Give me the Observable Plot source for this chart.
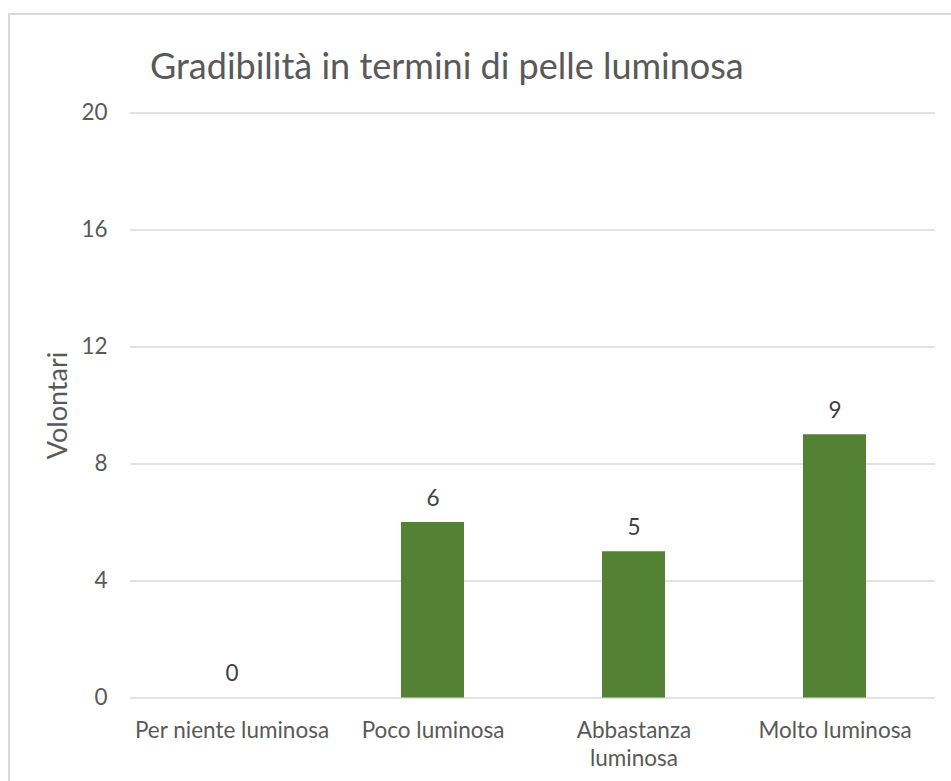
<!DOCTYPE html>
<html>
<head>
<meta charset="utf-8">
<script src="https://cdn.jsdelivr.net/npm/d3@7"></script>
<script src="https://cdn.jsdelivr.net/npm/@observablehq/plot@0.6"></script>
<style>
  html, body { margin: 0; padding: 0; background: #fff; }
  #wrap { position: relative; width: 951px; height: 781px; overflow: hidden; font-family: Lato, "Open Sans", sans-serif; }
  #frame { position: absolute; left: 8px; top: 13px; right: -5px; bottom: -5px; border-left: 2px solid #d9d9d9; border-top: 2px solid #d9d9d9; }
  #title { position: absolute; left: 150px; top: 47px; font-size: 36px; line-height: 36px; color: #595959; white-space: nowrap; }
  #chart { position: absolute; left: 0; top: 0; }
</style>
</head>
<body>
<div id="wrap">
  <div id="frame"></div>
  <div id="chart"></div>
  <div id="title">Gradibilità in termini di pelle luminosa</div>
</div>
<script>
const categories = ["Per niente luminosa", "Poco luminosa", "Abbastanza luminosa", "Molto luminosa"];
const xTickLabels = ["Per niente luminosa", "Poco luminosa", "Abbastanza\nluminosa", "Molto luminosa"];
const values = [0, 6, 5, 9];
const yTicks = [0, 4, 8, 12, 16, 20];
const yLabel = "Volontari";

const data = categories.map((c, i) => ({ cat: c, value: values[i] }));
const labelOf = new Map(categories.map((c, i) => [c, xTickLabels[i]]));

const chart = Plot.plot({
  width: 951,
  height: 781,
  marginLeft: 130,
  marginRight: 16,
  marginTop: 112.5,
  marginBottom: 83.5,
  style: { fontFamily: "Lato, 'Open Sans', sans-serif", fontSize: "22px", color: "#595959", background: "transparent", overflow: "visible" },
  x: { domain: categories, paddingInner: 0.687, paddingOuter: 0.3435, label: null },
  y: { domain: [0, 20], label: null },
  marks: [
    Plot.gridY(yTicks, { stroke: "#d9d9d9", strokeOpacity: 1, strokeWidth: 1.5 }),
    Plot.barY(data, { x: "cat", y: "value", fill: "#548235" }),
    Plot.text(data, { x: "cat", y: "value", text: d => String(d.value), dy: -17, lineAnchor: "bottom", fill: "#404040", fontSize: 22.5 }),
    Plot.axisY(yTicks, { tickSize: 0, tickPadding: 23, fontSize: 22.5, fill: "#595959", label: null }),
    Plot.text([yLabel], { frameAnchor: "left", textAnchor: "middle", lineAnchor: "middle", rotate: -90, dx: -72, text: d => d, fontSize: 27, fill: "#595959" }),
    Plot.axisX({ tickSize: 0, tickPadding: 20, fontSize: 22.5, fill: "#595959", tickFormat: d => labelOf.get(d), lineHeight: 1.25, label: null })
  ]
});
document.getElementById("chart").appendChild(chart);
</script>
</body>
</html>
